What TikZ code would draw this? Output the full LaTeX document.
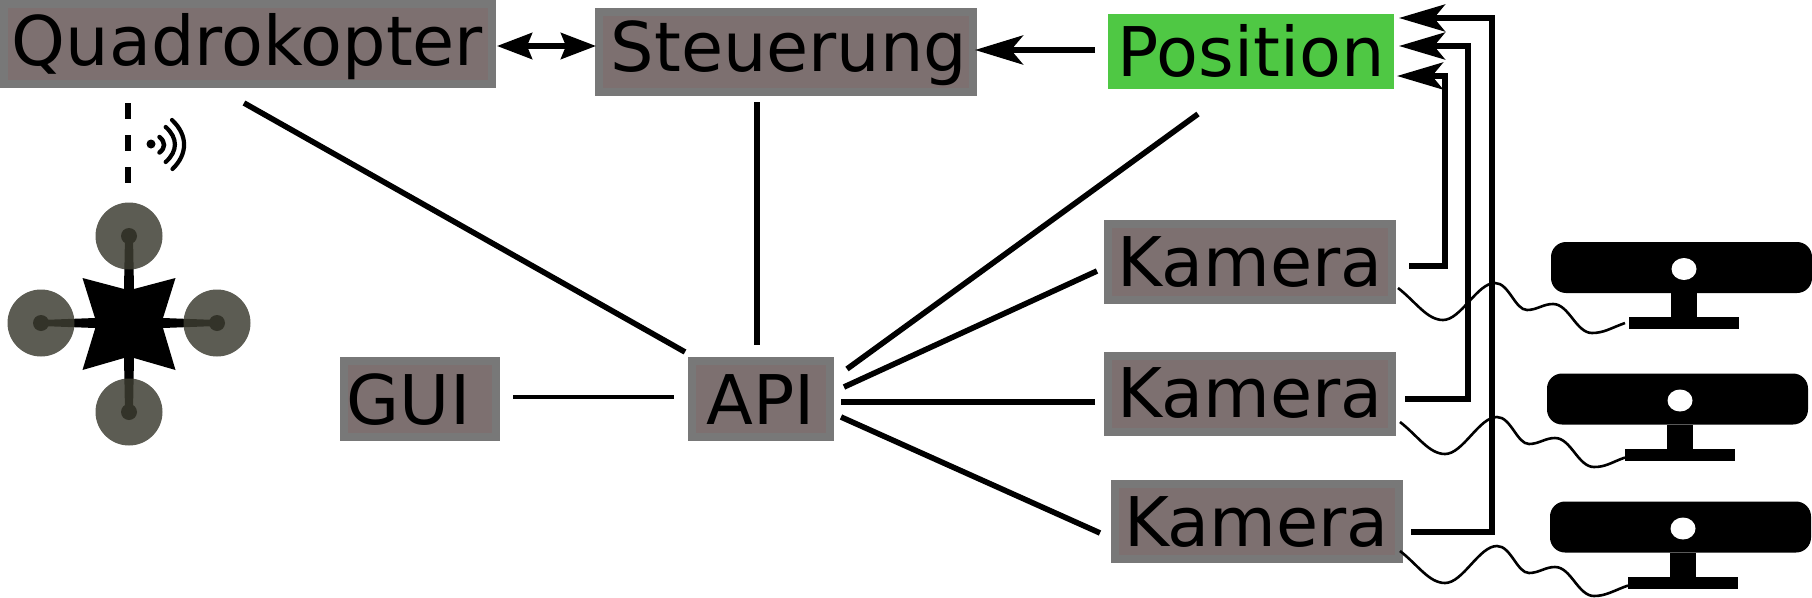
\documentclass[tikz,border=0pt]{standalone}
\usepackage{fontspec}
\setmainfont{DejaVu Sans}
\usetikzlibrary{arrows.meta,calc}
\definecolor{boxfill}{HTML}{7D7070}
\definecolor{boxedge}{HTML}{787878}
\definecolor{posfill}{HTML}{4FC844}
\definecolor{rotor}{HTML}{3D3D32}
\tikzset{
  textbox/.style={draw=boxedge,fill=boxfill,line width=8pt,inner sep=0pt,outer sep=0pt,
    font=\fontsize{68.5}{68.5}\selectfont,text depth=0pt,text=black},
  posbox/.style={fill=posfill,inner sep=0pt,outer sep=0pt,
    font=\fontsize{68.5}{68.5}\selectfont,text depth=0pt,text=black},
  link/.style={draw=black,line width=5.6pt},
  thinlink/.style={draw=black,line width=4.4pt},
  feed/.style={draw=black,line width=5.6pt,-{Stealth[length=46pt,width=27pt,inset=11pt]}},
  wire/.style={draw=black,line width=2.6pt},
  cambody/.style={fill=black,inner sep=0pt,outer sep=0pt,rounded corners=15pt,minimum width=261pt,minimum height=51pt},
  cambase/.style={fill=black,inner sep=0pt,outer sep=0pt,minimum width=110pt,minimum height=12pt},
}
\newcommand{\cammark}[3]{%
  \node[cambody] (cambody#1) at (#2+130.5,#3+25.5) {};
  \node[cambase] (cambase#1) at (#2+133,#3+81) {};
  \fill[black] (#2+120,#3+51) rectangle (#2+146,#3+75);
  \fill[white] (#2+133,#3+27) ellipse [x radius=12.5pt,y radius=11pt];
}
\newcommand{\wireline}[2]{%
  \draw[wire] #1 .. controls +(18,14) and +(-16,0) .. ++(45,32)
    .. controls +(18,0) and +(-18,0) .. ++(52,-37)
    .. controls +(14,0) and +(-12,0) .. ++(32,27)
    .. controls +(10,0) and +(-10,0) .. ++(26,-6)
    .. controls +(16,0) and +(-16,0) .. ++(39,29)
    .. controls +(12,0) and +(-14,5) .. #2;
}
\begin{document}
\begin{tikzpicture}[x=1pt,y=-1pt]
\useasboundingbox (0,0) rectangle (1812,597);

% boxes
\node[textbox,minimum width=488pt,minimum height=80pt,text height=42pt] (quad) at (248,44) {\hspace*{-1pt}Quadrokopter};
\node[textbox,minimum width=374pt,minimum height=80pt,text height=39pt] (steu) at (786,51.5) {\hspace*{6pt}Steuerung};
\node[posbox,minimum width=286pt,minimum height=75pt,text height=50pt] (pos) at (1251,51.5) {Position};
\node[textbox,minimum width=152pt,minimum height=76pt,text height=50pt] (gui) at (420,399) {\hspace*{-23pt}GUI};
\node[textbox,minimum width=138pt,minimum height=76pt,text height=50pt] (api) at (761,399) {\hspace*{-1pt}API};
\node[textbox,minimum width=284pt,minimum height=76pt,text height=48pt] (kam1) at (1250,262) {Kamera};
\node[textbox,minimum width=284pt,minimum height=76pt,text height=48pt] (kam2) at (1250,393.5) {Kamera};
\node[textbox,minimum width=284pt,minimum height=75pt,text height=49pt] (kam3) at (1256.5,521.5) {Kamera};

% links to API
\draw[link] ($(quad)+(-4,59)$) -- ($(api)+(-76,-47)$);
\draw[link] ($(steu)+(-29,50.5)$) -- ($(api)+(-4,-54)$);
\draw[link] ($(pos)+(-53,62.5)$) -- ($(api)+(86,-30)$);
\draw[link] ($(kam1)+(-153,9)$) -- ($(api)+(83,-12)$);
\draw[link] ($(kam2)+(-155,8.5)$) -- ($(api)+(80,3)$);
\draw[link] ($(kam3)+(-156.5,11.5)$) -- ($(api)+(80,18)$);
\draw[thinlink] ($(gui)+(93,-2)$) -- ($(api)+(-87,-2)$);

% arrows
\draw[draw=black,line width=5.6pt,{Stealth[length=35pt,width=26pt,inset=5pt]}-{Stealth[length=35pt,width=26pt,inset=5pt]}]
  ($(quad)+(249,2)$) -- ($(steu)+(-190,-5.5)$);
\draw[draw=black,line width=6pt,-{Stealth[length=48pt,width=29pt,inset=12pt]}]
  ($(pos)+(-156,-1.5)$) -- ($(steu)+(189,-1.5)$);
\draw[feed] ($(kam1)+(159,4)$) -| ($(pos)+(194,24.5)$) -- ($(pos)+(146,24.5)$);
\draw[feed] ($(kam2)+(155,5.5)$) -| ($(pos)+(217,-5.5)$) -- ($(pos)+(148,-5.5)$);
\draw[feed] ($(kam3)+(154.5,10.5)$) -| ($(pos)+(241,-33.5)$) -- ($(pos)+(148,-33.5)$);

% cameras
\cammark{1}{1551}{242}
\cammark{2}{1547}{373.5}
\cammark{3}{1550}{501.5}
\wireline{($(kam1)+(148,26)$)}{($(cambase1.west)+(-4,0)$)}
\wireline{($(kam2)+(150,28.5)$)}{($(cambase2.west)+(0,3)$)}
\wireline{($(kam3)+(143.5,29.5)$)}{($(cambase3.west)+(0,3)$)}

% drone
\fill[black] (124,323) -- (124,289) -- (125,236) -- (133,236) -- (134,289) -- (134,323) -- cycle;
\fill[black] (124,323) -- (124,357) -- (125,412) -- (133,412) -- (134,357) -- (134,323) -- cycle;
\fill[black] (129,318) -- (95,318) -- (41,320) -- (41,326) -- (95,328) -- (129,328) -- cycle;
\fill[black] (129,318) -- (163,318) -- (217,320) -- (217,326) -- (163,328) -- (129,328) -- cycle;
\fill[black] (129,236) circle [radius=8pt] (129,412) circle [radius=8pt]
  (41,323) circle [radius=8pt] (217,323) circle [radius=8pt];
\fill[rotor,fill opacity=.84] (129,236) circle [radius=33.5pt];
\fill[rotor,fill opacity=.84] (129,412) circle [radius=33.5pt];
\fill[rotor,fill opacity=.84] (41,323) circle [radius=33.5pt];
\fill[rotor,fill opacity=.84] (217,323) circle [radius=33.5pt];
\fill[black] (82.5,278) -- (124,289) -- (134,289) -- (175.5,278) -- (163,318) -- (163,328)
  -- (175.5,370) -- (134,358) -- (124,358) -- (82.5,370) -- (95,329) -- (95,318) -- cycle;

% radio link
\draw[draw=black,line width=5.4pt,dash pattern=on 16pt off 16pt] (128,103) -- (128,183);
\fill[black] (151,144) circle [radius=4.5pt];
\draw[draw=black,line width=4.5pt,line cap=round] (159.5,137) .. controls (165.5,142) and (165.5,148) .. (159.5,152.5);
\draw[draw=black,line width=4.2pt,line cap=round] (165.7,127) .. controls (178,138) and (178,151) .. (165.7,162);
\draw[draw=black,line width=4.2pt,line cap=round] (172,120) .. controls (188,135) and (188,154) .. (172.5,169);
\end{tikzpicture}
\end{document}
